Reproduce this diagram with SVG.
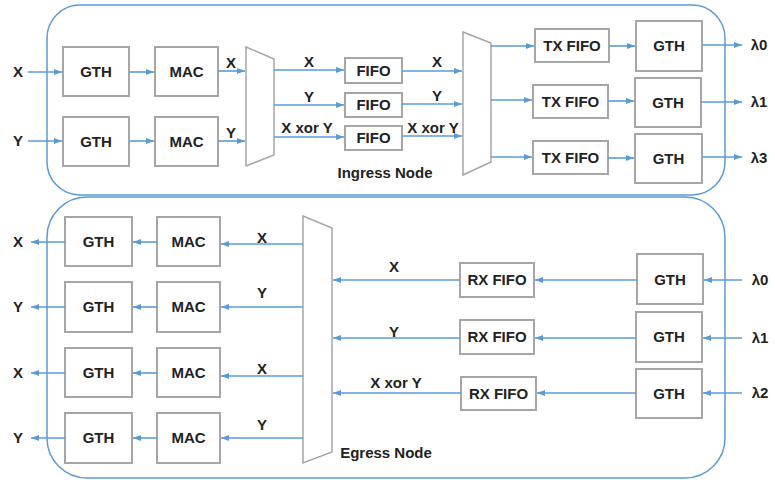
<svg xmlns="http://www.w3.org/2000/svg" width="775" height="480" viewBox="0 0 775 480">
<defs>
<marker id="ah" markerUnits="userSpaceOnUse" markerWidth="8" markerHeight="6" refX="8" refY="3" orient="auto">
<path d="M0,0 L8,3 L0,6 z" fill="#5b9bd5"/>
</marker>
<style>
.c{fill:none;stroke:#5b9bd5;stroke-width:1.5}
.b{fill:#fff;stroke:#a6a6a6;stroke-width:2}
.m{fill:#fff;stroke:#a6a6a6;stroke-width:1.5}
.a{fill:none;stroke:#5b9bd5;stroke-width:1.6;marker-end:url(#ah)}
text{font-family:"Liberation Sans",Arial,sans-serif;font-weight:bold;font-size:15px;fill:#222}
.t{text-anchor:middle}
</style>
</defs>
<rect class="c" x="47" y="5" width="678" height="190" rx="33"/>
<rect class="c" x="47" y="197" width="678" height="281" rx="40"/>

<g id="ingress">
<g id="in-gth1"><rect class="b" x="63" y="47" width="66" height="49"/><text class="t" x="96" y="77">GTH</text></g>
<g id="in-mac1"><rect class="b" x="155" y="47" width="63" height="49"/><text class="t" x="186.5" y="77">MAC</text></g>
<g id="in-gth2"><rect class="b" x="63" y="117" width="66" height="49"/><text class="t" x="96" y="147">GTH</text></g>
<g id="in-mac2"><rect class="b" x="155" y="117" width="63" height="49"/><text class="t" x="186.5" y="147">MAC</text></g>
<g id="in-mux1"><polygon class="m" points="246,47 274,59 274,155 246,166"/></g>
<g id="in-fifo1"><rect class="b" x="345" y="58" width="57" height="25"/><text class="t" x="373.5" y="76">FIFO</text></g>
<g id="in-fifo2"><rect class="b" x="345" y="93" width="57" height="24"/><text class="t" x="373.5" y="110">FIFO</text></g>
<g id="in-fifo3"><rect class="b" x="345" y="126" width="57" height="24"/><text class="t" x="373.5" y="143">FIFO</text></g>
<g id="in-mux2"><polygon class="m" points="463,32 491,43 491,162 463,175"/></g>
<g id="in-txfifo1"><rect class="b" x="535" y="29" width="74" height="33"/><text class="t" x="572" y="51">TX FIFO</text></g>
<g id="in-txfifo2"><rect class="b" x="533" y="85" width="75" height="33"/><text class="t" x="570.5" y="107">TX FIFO</text></g>
<g id="in-txfifo3"><rect class="b" x="533" y="141" width="75" height="33"/><text class="t" x="570.5" y="163">TX FIFO</text></g>
<g id="in-gthr1"><rect class="b" x="636" y="21" width="66" height="50"/><text class="t" x="669" y="51">GTH</text></g>
<g id="in-gthr2"><rect class="b" x="635" y="78" width="66" height="49"/><text class="t" x="668" y="108">GTH</text></g>
<g id="in-gthr3"><rect class="b" x="635" y="134" width="67" height="49"/><text class="t" x="668.5" y="164">GTH</text></g>
<text class="t" x="385" y="178">Ingress Node</text>
</g>

<g id="egress">
<g id="eg-gth1"><rect class="b" x="65" y="217" width="67" height="49"/><text class="t" x="98.5" y="247">GTH</text></g>
<g id="eg-gth2"><rect class="b" x="65" y="282" width="67" height="50"/><text class="t" x="98.5" y="312">GTH</text></g>
<g id="eg-gth3"><rect class="b" x="65" y="348" width="67" height="49"/><text class="t" x="98.5" y="378">GTH</text></g>
<g id="eg-gth4"><rect class="b" x="65" y="413" width="67" height="50"/><text class="t" x="98.5" y="443">GTH</text></g>
<g id="eg-mac1"><rect class="b" x="157" y="217" width="63" height="49"/><text class="t" x="188.5" y="247">MAC</text></g>
<g id="eg-mac2"><rect class="b" x="157" y="282" width="63" height="50"/><text class="t" x="188.5" y="312">MAC</text></g>
<g id="eg-mac3"><rect class="b" x="157" y="348" width="63" height="49"/><text class="t" x="188.5" y="378">MAC</text></g>
<g id="eg-mac4"><rect class="b" x="157" y="413" width="63" height="50"/><text class="t" x="188.5" y="443">MAC</text></g>
<g id="eg-mux"><polygon class="m" points="303,216 332,228 332,452 303,463"/></g>
<g id="eg-rxfifo1"><rect class="b" x="460" y="263" width="74" height="34"/><text class="t" x="497" y="285">RX FIFO</text></g>
<g id="eg-rxfifo2"><rect class="b" x="460" y="320" width="74" height="34"/><text class="t" x="497" y="342">RX FIFO</text></g>
<g id="eg-rxfifo3"><rect class="b" x="461" y="377" width="75" height="33"/><text class="t" x="498.5" y="399">RX FIFO</text></g>
<g id="eg-gthr1"><rect class="b" x="637" y="254" width="66" height="50"/><text class="t" x="670" y="285">GTH</text></g>
<g id="eg-gthr2"><rect class="b" x="636" y="312" width="66" height="50"/><text class="t" x="669" y="342">GTH</text></g>
<g id="eg-gthr3"><rect class="b" x="636" y="369" width="66" height="49"/><text class="t" x="669" y="399">GTH</text></g>
<text class="t" x="386" y="458">Egress Node</text>
</g>

<g id="connectors">
<line class="a" x1="28" y1="72" x2="62" y2="72"/>
<line class="a" x1="28" y1="141" x2="62" y2="141"/>
<line class="a" x1="130" y1="72" x2="154" y2="72"/>
<line class="a" x1="130" y1="141" x2="154" y2="141"/>
<line class="a" x1="218" y1="71" x2="245" y2="71"/>
<line class="a" x1="218" y1="141" x2="245" y2="141"/>
<line class="a" x1="274" y1="70" x2="344" y2="70"/>
<line class="a" x1="274" y1="105" x2="344" y2="105"/>
<line class="a" x1="274" y1="137" x2="344" y2="137"/>
<line class="a" x1="402" y1="71" x2="462" y2="71"/>
<line class="a" x1="402" y1="104" x2="462" y2="104"/>
<line class="a" x1="402" y1="136" x2="462" y2="136"/>
<line class="a" x1="491" y1="46" x2="534" y2="46"/>
<line class="a" x1="491" y1="100" x2="532" y2="100"/>
<line class="a" x1="491" y1="157" x2="532" y2="157"/>
<line class="a" x1="609" y1="46" x2="635" y2="46"/>
<line class="a" x1="608" y1="101" x2="634" y2="101"/>
<line class="a" x1="608" y1="158" x2="634" y2="158"/>
<line class="a" x1="702" y1="45" x2="742" y2="45"/>
<line class="a" x1="701" y1="102" x2="742" y2="102"/>
<line class="a" x1="702" y1="157" x2="742" y2="157"/>

<line class="a" x1="65" y1="242" x2="31" y2="242"/>
<line class="a" x1="65" y1="307" x2="31" y2="307"/>
<line class="a" x1="65" y1="373" x2="31" y2="373"/>
<line class="a" x1="65" y1="438" x2="31" y2="438"/>
<line class="a" x1="157" y1="242" x2="133" y2="242"/>
<line class="a" x1="157" y1="307" x2="133" y2="307"/>
<line class="a" x1="157" y1="373" x2="133" y2="373"/>
<line class="a" x1="157" y1="438" x2="133" y2="438"/>
<line class="a" x1="303" y1="244" x2="221" y2="244"/>
<line class="a" x1="303" y1="307" x2="221" y2="307"/>
<line class="a" x1="303" y1="376" x2="221" y2="376"/>
<line class="a" x1="303" y1="438" x2="221" y2="438"/>
<line class="a" x1="460" y1="280" x2="333" y2="280"/>
<line class="a" x1="460" y1="338" x2="333" y2="338"/>
<line class="a" x1="461" y1="393" x2="333" y2="393"/>
<line class="a" x1="637" y1="280" x2="535" y2="280"/>
<line class="a" x1="636" y1="338" x2="535" y2="338"/>
<line class="a" x1="636" y1="393" x2="537" y2="393"/>
<line class="a" x1="742" y1="280" x2="704" y2="280"/>
<line class="a" x1="742" y1="338" x2="703" y2="338"/>
<line class="a" x1="742" y1="393" x2="703" y2="393"/>
</g>

<g id="labels">
<text class="t" x="18" y="77">X</text>
<text class="t" x="18" y="146">Y</text>
<text class="t" x="231" y="68">X</text>
<text class="t" x="231" y="138">Y</text>
<text class="t" x="309" y="67">X</text>
<text class="t" x="309" y="102">Y</text>
<text class="t" x="307" y="133">X xor Y</text>
<text class="t" x="437" y="67">X</text>
<text class="t" x="437" y="101">Y</text>
<text class="t" x="433" y="133">X xor Y</text>
<text class="t" x="759" y="50">λ0</text>
<text class="t" x="759" y="107">λ1</text>
<text class="t" x="759" y="163">λ3</text>

<text class="t" x="18" y="247">X</text>
<text class="t" x="18" y="312">Y</text>
<text class="t" x="18" y="378">X</text>
<text class="t" x="18" y="443">Y</text>
<text class="t" x="262" y="243">X</text>
<text class="t" x="262" y="298">Y</text>
<text class="t" x="262" y="374">X</text>
<text class="t" x="262" y="430">Y</text>
<text class="t" x="394" y="272">X</text>
<text class="t" x="394" y="337">Y</text>
<text class="t" x="396" y="388">X xor Y</text>
<text class="t" x="760" y="285">λ0</text>
<text class="t" x="760" y="343">λ1</text>
<text class="t" x="760" y="398">λ2</text>
</g>
</svg>
